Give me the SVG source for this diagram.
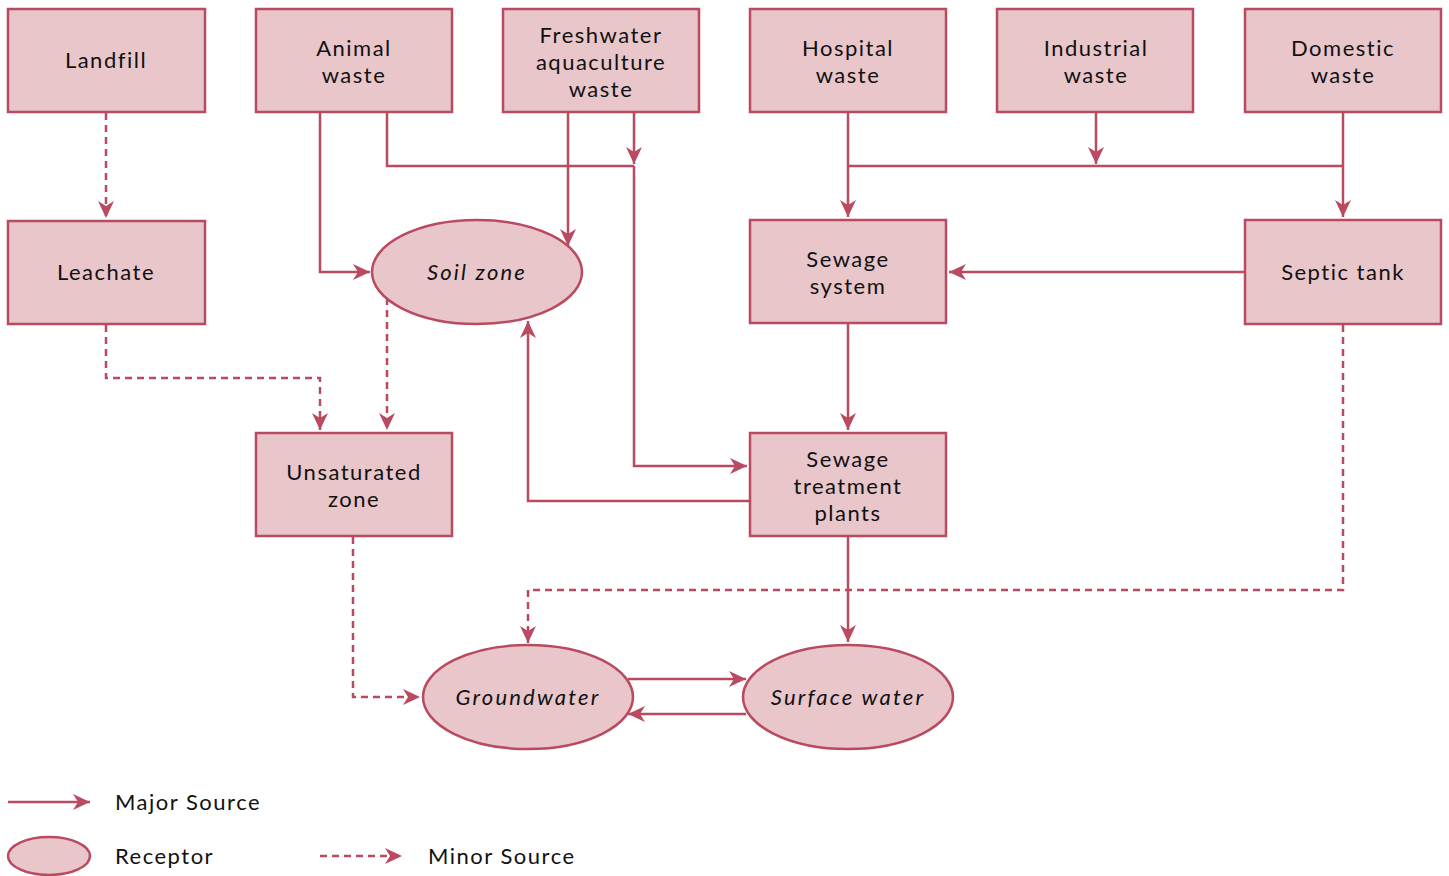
<svg xmlns="http://www.w3.org/2000/svg" width="1449" height="876" viewBox="0 0 1449 876">
<defs>
<marker id="ah" markerUnits="userSpaceOnUse" markerWidth="18" markerHeight="18" viewBox="0 0 18 18" refX="17" refY="9" orient="auto">
<path d="M0,1 L17,9 L0,17 L5,9 Z" fill="#b94a5f"/>
</marker>
<style>
.box{fill:#e8c6ca;stroke:#b94a5f;stroke-width:2.5}
.t{font-family:Lato,"Noto Sans","Open Sans",sans-serif;font-size:22px;letter-spacing:1.5px;fill:#111;text-anchor:middle}
.i{font-style:italic;letter-spacing:2.2px}
.l{text-anchor:start}
.c{fill:none;stroke:#b94a5f;stroke-width:2.5}
.a{marker-end:url(#ah)}
.d{stroke-dasharray:7 5}
</style>
</defs>
<rect width="1449" height="876" fill="#fff"/>
<g id="connectors">
<path class="c d a" d="M106,113 V218"/>
<path class="c a" d="M320,112 V272 H370"/>
<path class="c" d="M387,112 V166 H634"/>
<path class="c a" d="M568,112 V246"/>
<path class="c a" d="M634,112 V164"/>
<path class="c a" d="M634,166 V466 H747"/>
<path class="c a" d="M848,112 V217"/>
<path class="c" d="M848,166 H1343"/>
<path class="c a" d="M1096,112 V164"/>
<path class="c a" d="M1343,112 V217"/>
<path class="c a" d="M1245,272 H949"/>
<path class="c a" d="M848,324 V430"/>
<path class="c a" d="M750,501 H528 V321"/>
<path class="c d a" d="M106,325 V378 H320 V430"/>
<path class="c d a" d="M387,298 V430"/>
<path class="c d a" d="M353,537 V697 H420"/>
<path class="c d a" d="M1343,325 V590 H528 V643"/>
<path class="c a" d="M848,537 V642"/>
<path class="c a" d="M628,679 H746"/>
<path class="c a" d="M746,714 H628"/>
</g>
<g id="landfill"><rect class="box" x="8" y="9" width="197" height="103"/><text class="t" x="106" y="68">Landfill</text></g>
<g id="animal-waste"><rect class="box" x="256" y="9" width="196" height="103"/><text class="t" x="354" y="56">Animal</text><text class="t" x="354" y="83">waste</text></g>
<g id="freshwater"><rect class="box" x="503" y="9" width="196" height="103"/><text class="t" x="601" y="43">Freshwater</text><text class="t" x="601" y="70">aquaculture</text><text class="t" x="601" y="97">waste</text></g>
<g id="hospital"><rect class="box" x="750" y="9" width="196" height="103"/><text class="t" x="848" y="56">Hospital</text><text class="t" x="848" y="83">waste</text></g>
<g id="industrial"><rect class="box" x="997" y="9" width="196" height="103"/><text class="t" x="1096" y="56">Industrial</text><text class="t" x="1096" y="83">waste</text></g>
<g id="domestic"><rect class="box" x="1245" y="9" width="196" height="103"/><text class="t" x="1343" y="56">Domestic</text><text class="t" x="1343" y="83">waste</text></g>
<g id="leachate"><rect class="box" x="8" y="221" width="197" height="103"/><text class="t" x="106" y="280">Leachate</text></g>
<g id="soil-zone"><ellipse class="box" cx="477" cy="272" rx="105" ry="52"/><text class="t i" x="477" y="280">Soil zone</text></g>
<g id="sewage-system"><rect class="box" x="750" y="220" width="196" height="103"/><text class="t" x="848" y="267">Sewage</text><text class="t" x="848" y="294">system</text></g>
<g id="septic-tank"><rect class="box" x="1245" y="220" width="196" height="104"/><text class="t" x="1343" y="280">Septic tank</text></g>
<g id="unsaturated"><rect class="box" x="256" y="433" width="196" height="103"/><text class="t" x="354" y="480">Unsaturated</text><text class="t" x="354" y="507">zone</text></g>
<g id="stp"><rect class="box" x="750" y="433" width="196" height="103"/><text class="t" x="848" y="467">Sewage</text><text class="t" x="848" y="494">treatment</text><text class="t" x="848" y="521">plants</text></g>
<g id="groundwater"><ellipse class="box" cx="528" cy="697" rx="105" ry="52"/><text class="t i" x="528" y="705">Groundwater</text></g>
<g id="surface-water"><ellipse class="box" cx="848" cy="697" rx="105" ry="52"/><text class="t i" x="848" y="705">Surface water</text></g>
<g id="legend">
<path class="c a" d="M8,802 H90"/>
<text class="t l" x="115" y="810">Major Source</text>
<ellipse class="box" cx="49" cy="856" rx="41" ry="19"/>
<text class="t l" x="115" y="864">Receptor</text>
<path class="c d a" d="M320,856 H402"/>
<text class="t l" x="428" y="864">Minor Source</text>
</g>
</svg>
